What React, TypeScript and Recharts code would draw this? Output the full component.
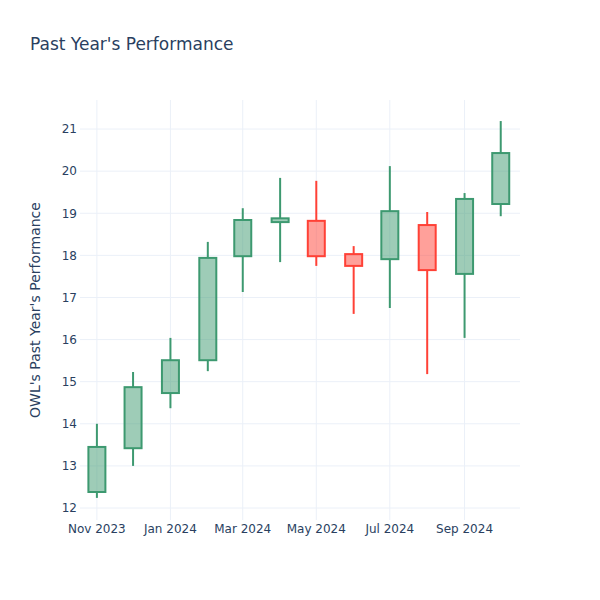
import { Bar, CartesianGrid, ComposedChart, XAxis, YAxis } from 'recharts'

const months = [
  '2023-11', '2023-12', '2024-01', '2024-02', '2024-03', '2024-04',
  '2024-05', '2024-06', '2024-07', '2024-08', '2024-09', '2024-10',
]
const openValues = [12.38, 13.42, 14.73, 15.51, 17.98, 18.79, 18.82, 18.03, 17.91, 18.72, 17.56, 19.22]
const highValues = [14.0, 15.23, 16.04, 18.32, 19.12, 19.84, 19.77, 18.22, 20.12, 19.03, 19.48, 21.19]
const lowValues = [12.24, 13.0, 14.37, 15.25, 17.13, 17.84, 17.75, 16.61, 16.75, 15.18, 16.04, 18.93]
const closeValues = [13.45, 14.87, 15.51, 17.94, 18.84, 18.88, 17.98, 17.75, 19.05, 17.65, 19.34, 20.43]

const yTicks = [12, 13, 14, 15, 16, 17, 18, 19, 20, 21]
const xTickMonths = ['2023-11', '2024-01', '2024-03', '2024-05', '2024-07', '2024-09']
const monthNames = ['Jan', 'Feb', 'Mar', 'Apr', 'May', 'Jun', 'Jul', 'Aug', 'Sep', 'Oct', 'Nov', 'Dec']

const toTime = (m: string) => {
  const [y, mo] = m.split('-').map(Number)
  return Date.UTC(y, mo - 1, 1)
}

const data = months.map((m, i) => ({
  t: toTime(m),
  open: openValues[i],
  high: highValues[i],
  low: lowValues[i],
  close: closeValues[i],
}))

const xDomain = [Date.UTC(2023, 9, 18), Date.UTC(2024, 9, 17)]
const xTicks = xTickMonths.map(toTime)

const INC = '#3D9970'
const DEC = '#FF4136'
const TEXT = '#2a3f5f'
const GRID = '#EBF0F8'
const FONT = '"DejaVu Sans", verdana, arial, sans-serif'

function Candle(props: any) {
  const { x, y, width, height, payload } = props
  const { open, high, low, close } = payload
  const scale = height / (high - low)
  const up = close >= open
  const color = up ? INC : DEC
  const fill = up ? 'rgba(61,153,112,0.5)' : 'rgba(255,65,54,0.5)'
  const top = y + (high - Math.max(open, close)) * scale
  const bottom = y + (high - Math.min(open, close)) * scale
  const cx = x + width / 2
  return (
    <g>
      <line x1={cx} x2={cx} y1={y} y2={top} stroke={color} strokeWidth={2} />
      <line x1={cx} x2={cx} y1={bottom} y2={y + height} stroke={color} strokeWidth={2} />
      <rect x={x} y={top} width={width} height={Math.max(bottom - top, 0.5)} fill={fill} stroke={color} strokeWidth={2} />
    </g>
  )
}

const fmtTick = (t: number) => {
  const d = new Date(t)
  return `${monthNames[d.getUTCMonth()]} ${d.getUTCFullYear()}`
}

export default function App() {
  return (
    <div style={{ position: 'absolute', left: 0, top: 0, width: 600, height: 600, background: '#fff', fontFamily: FONT }}>
      <div style={{ position: 'absolute', left: 30, top: 34, fontSize: 17, color: TEXT, whiteSpace: 'nowrap' }}>
        Past Year's Performance
      </div>
      <ComposedChart width={600} height={600} data={data} margin={{ top: 100, right: 80, bottom: 50, left: 30 }}>
        <CartesianGrid stroke={GRID} strokeWidth={1} syncWithTicks />
        <XAxis
          dataKey="t"
          type="number"
          scale="time"
          domain={xDomain}
          ticks={xTicks}
          tickFormatter={fmtTick}
          axisLine={false}
          tickLine={false}
          tickSize={0}
          tickMargin={4}
          height={30}
          interval={0}
          tick={{ fontSize: 12, fill: TEXT, fontFamily: FONT }}
        />
        <YAxis
          domain={[11.715, 21.69]}
          ticks={yTicks}
          axisLine={false}
          tickLine={false}
          tickSize={0}
          tickMargin={3}
          width={50}
          allowDataOverflow
          tick={{ fontSize: 12, fill: TEXT, fontFamily: FONT }}
          label={{
            value: "OWL's Past Year's Performance",
            angle: -90,
            position: 'insideLeft',
            offset: 5,
            style: { fill: TEXT, fontSize: 14, textAnchor: 'middle', fontFamily: FONT },
          }}
        />
        <Bar
          dataKey={(d: any) => [d.low, d.high]}
          barSize={17}
          shape={Candle}
          isAnimationActive={false}
        />
      </ComposedChart>
    </div>
  )
}
